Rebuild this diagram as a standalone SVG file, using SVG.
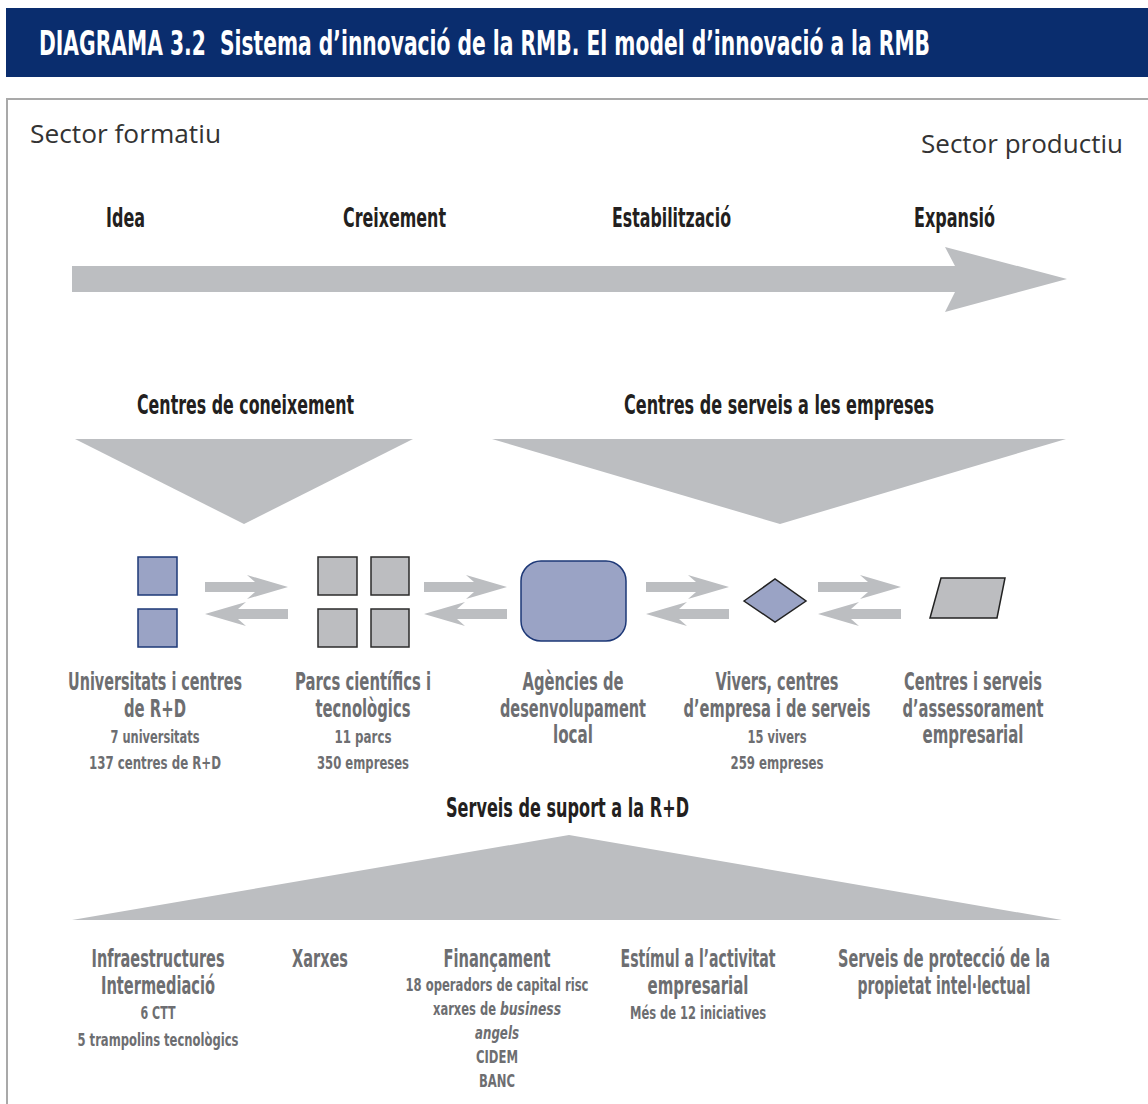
<svg xmlns="http://www.w3.org/2000/svg" width="1148" height="1104" viewBox="0 0 1148 1104">
<defs>
<style>
.band{fill:#0a2d6e}
.title{font-family:'DejaVu Sans Condensed','DejaVu Sans',sans-serif;font-weight:bold;font-size:34px;fill:#ffffff}
.sector{font-family:'Open Sans','Liberation Sans',sans-serif;font-size:25px;fill:#333333}
.head{font-family:'DejaVu Sans Condensed','DejaVu Sans',sans-serif;font-weight:bold;font-size:26px;fill:#231f20}
.lbl{font-family:'DejaVu Sans Condensed','DejaVu Sans',sans-serif;font-weight:bold;font-size:25px;fill:#6d6e71;text-anchor:middle}
.sub{font-family:'DejaVu Sans Condensed','DejaVu Sans',sans-serif;font-weight:bold;font-size:18px;fill:#6d6e71;text-anchor:middle}
.subs{font-family:'DejaVu Sans Condensed','DejaVu Sans',sans-serif;font-weight:bold;font-size:18px;fill:#6d6e71}
.gshape{fill:#bcbec1}
.blue{fill:#9aa3c5;stroke:#1d3877;stroke-width:1.5}
.grey{fill:#bcbdc0;stroke:#2b2b2b;stroke-width:1.5}
</style>
<path id="ar" d="M0,-5 H50 L42,-12 L83,0 L42,12 L50,5 H0 Z" fill="#bcbec1"/>
<path id="al" d="M83,-5 H33 L41,-12 L0,0 L41,12 L33,5 H83 Z" fill="#bcbec1"/>
</defs>
<rect width="1148" height="1104" fill="#ffffff"/>
<g id="header">
<rect class="band" x="6" y="8" width="1142" height="69"/>
<text class="title" x="39" y="55" textLength="891" lengthAdjust="spacingAndGlyphs" xml:space="preserve">DIAGRAMA 3.2  Sistema d’innovació de la RMB. El model d’innovació a la RMB</text>
</g>
<path d="M7,1104 V99 H1148" fill="none" stroke="#a9a9a9" stroke-width="2"/>
<g id="sectors">
<text class="sector" x="30" y="143" textLength="191" lengthAdjust="spacingAndGlyphs">Sector formatiu</text>
<text class="sector" x="921" y="153" textLength="202" lengthAdjust="spacingAndGlyphs">Sector productiu</text>
</g>
<g id="stages">
<text class="head" x="106" y="227" textLength="39" lengthAdjust="spacingAndGlyphs">Idea</text>
<text class="head" x="343" y="227" textLength="103" lengthAdjust="spacingAndGlyphs">Creixement</text>
<text class="head" x="612" y="227" textLength="119" lengthAdjust="spacingAndGlyphs">Estabilització</text>
<text class="head" x="914" y="227" textLength="81" lengthAdjust="spacingAndGlyphs">Expansió</text>
<polygon class="gshape" points="72,266 955,266 945,247 1067,279 945,312 955,292 72,292"/>
</g>
<g id="centres-coneixement">
<text class="head" x="137" y="414" textLength="217" lengthAdjust="spacingAndGlyphs">Centres de coneixement</text>
<polygon class="gshape" points="75,439 413,439 244,524"/>
</g>
<g id="centres-serveis">
<text class="head" x="624" y="414" textLength="310" lengthAdjust="spacingAndGlyphs">Centres de serveis a les empreses</text>
<polygon class="gshape" points="492,439 1066,439 780,524"/>
</g>
<g id="universitats">
<rect class="blue" x="138" y="557" width="39" height="38"/>
<rect class="blue" x="138" y="609" width="39" height="38"/>
<text class="lbl" x="155" y="690" textLength="174" lengthAdjust="spacingAndGlyphs">Universitats i centres</text>
<text class="lbl" x="155" y="717" textLength="62" lengthAdjust="spacingAndGlyphs">de R+D</text>
<text class="sub" x="155" y="743" textLength="89" lengthAdjust="spacingAndGlyphs">7 universitats</text>
<text class="sub" x="155" y="769" textLength="132" lengthAdjust="spacingAndGlyphs">137 centres de R+D</text>
</g>
<g id="parcs">
<rect class="grey" x="318" y="557" width="39" height="38"/>
<rect class="grey" x="371" y="557" width="38" height="38"/>
<rect class="grey" x="318" y="609" width="39" height="38"/>
<rect class="grey" x="371" y="609" width="38" height="38"/>
<text class="lbl" x="363" y="690" textLength="136" lengthAdjust="spacingAndGlyphs">Parcs científics i</text>
<text class="lbl" x="363" y="717" textLength="95" lengthAdjust="spacingAndGlyphs">tecnològics</text>
<text class="sub" x="363" y="743" textLength="57" lengthAdjust="spacingAndGlyphs">11 parcs</text>
<text class="sub" x="363" y="769" textLength="92" lengthAdjust="spacingAndGlyphs">350 empreses</text>
</g>
<g id="agencies">
<rect class="blue" x="521" y="561" width="105" height="80" rx="20" ry="20"/>
<text class="lbl" x="573" y="690" textLength="101" lengthAdjust="spacingAndGlyphs">Agències de</text>
<text class="lbl" x="573" y="717" textLength="146" lengthAdjust="spacingAndGlyphs">desenvolupament</text>
<text class="lbl" x="573" y="743" textLength="40" lengthAdjust="spacingAndGlyphs">local</text>
</g>
<g id="vivers">
<polygon points="744,601 775,579 806,601 775,622" fill="#9aa3c5" stroke="#222222" stroke-width="1.5"/>
<text class="lbl" x="777" y="690" textLength="123" lengthAdjust="spacingAndGlyphs">Vivers, centres</text>
<text class="lbl" x="777" y="717" textLength="187" lengthAdjust="spacingAndGlyphs">d’empresa i de serveis</text>
<text class="sub" x="777" y="743" textLength="59" lengthAdjust="spacingAndGlyphs">15 vivers</text>
<text class="sub" x="777" y="769" textLength="93" lengthAdjust="spacingAndGlyphs">259 empreses</text>
</g>
<g id="assessorament">
<polygon points="941,578 1005,578 997,618 930,618" fill="#bcbdc0" stroke="#222222" stroke-width="1.5"/>
<text class="lbl" x="973" y="690" textLength="138" lengthAdjust="spacingAndGlyphs">Centres i serveis</text>
<text class="lbl" x="973" y="717" textLength="141" lengthAdjust="spacingAndGlyphs">d’assessorament</text>
<text class="lbl" x="973" y="743" textLength="101" lengthAdjust="spacingAndGlyphs">empresarial</text>
</g>
<g id="connectors">
<use href="#ar" x="205" y="587"/>
<use href="#al" x="205" y="614"/>
<use href="#ar" x="424" y="587"/>
<use href="#al" x="424" y="614"/>
<use href="#ar" x="646" y="587"/>
<use href="#al" x="646" y="614"/>
<use href="#ar" x="818" y="587"/>
<use href="#al" x="818" y="614"/>
</g>
<g id="serveis-suport">
<text class="head" x="446" y="817" textLength="243" lengthAdjust="spacingAndGlyphs">Serveis de suport a la R+D</text>
<polygon class="gshape" points="72,920 569,835 1062,920"/>
</g>
<g id="infraestructures">
<text class="lbl" x="158" y="967" textLength="133" lengthAdjust="spacingAndGlyphs">Infraestructures</text>
<text class="lbl" x="158" y="994" textLength="114" lengthAdjust="spacingAndGlyphs">Intermediació</text>
<text class="sub" x="158" y="1019" textLength="35" lengthAdjust="spacingAndGlyphs">6 CTT</text>
<text class="sub" x="158" y="1046" textLength="161" lengthAdjust="spacingAndGlyphs">5 trampolins tecnològics</text>
</g>
<g id="xarxes">
<text class="lbl" x="320" y="967" textLength="56" lengthAdjust="spacingAndGlyphs">Xarxes</text>
</g>
<g id="financament">
<text class="lbl" x="497" y="967" textLength="107" lengthAdjust="spacingAndGlyphs">Finançament</text>
<text class="sub" x="497" y="991" textLength="183" lengthAdjust="spacingAndGlyphs">18 operadors de capital risc</text>
<text class="subs" x="433" y="1015" textLength="63" lengthAdjust="spacingAndGlyphs">xarxes de</text>
<text class="subs" x="500" y="1015" font-style="italic" textLength="61" lengthAdjust="spacingAndGlyphs">business</text>
<text class="sub" x="497" y="1039" font-style="italic" textLength="44" lengthAdjust="spacingAndGlyphs">angels</text>
<text class="sub" x="497" y="1063" textLength="42" lengthAdjust="spacingAndGlyphs">CIDEM</text>
<text class="sub" x="497" y="1087" textLength="36" lengthAdjust="spacingAndGlyphs">BANC</text>
</g>
<g id="estimul">
<text class="lbl" x="698" y="967" textLength="155" lengthAdjust="spacingAndGlyphs">Estímul a l’activitat</text>
<text class="lbl" x="698" y="994" textLength="101" lengthAdjust="spacingAndGlyphs">empresarial</text>
<text class="sub" x="698" y="1019" textLength="136" lengthAdjust="spacingAndGlyphs">Més de 12 iniciatives</text>
</g>
<g id="proteccio">
<text class="lbl" x="944" y="967" textLength="212" lengthAdjust="spacingAndGlyphs">Serveis de protecció de la</text>
<text class="lbl" x="944" y="994" textLength="173" lengthAdjust="spacingAndGlyphs">propietat intel·lectual</text>
</g>
</svg>
